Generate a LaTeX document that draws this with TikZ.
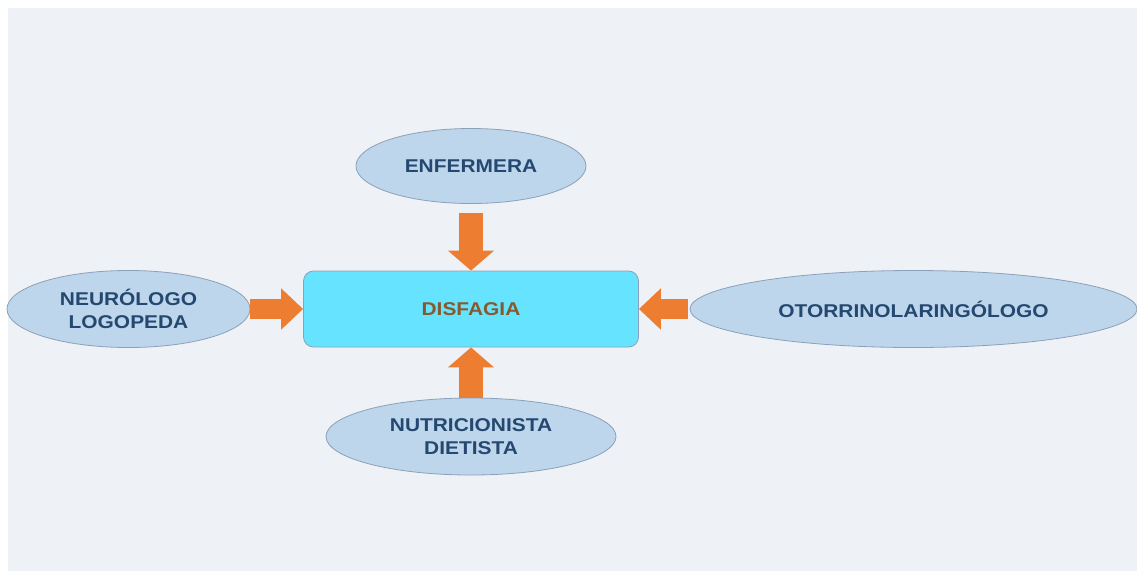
\documentclass[tikz,border=0pt]{standalone}
\usepackage{fontspec}
\setmainfont{Liberation Sans}[FakeStretch=1.13]
\usetikzlibrary{shapes.geometric,arrows.meta,positioning}
\definecolor{fondo}{RGB}{238,241,245}
\definecolor{elipse}{RGB}{190,214,236}
\definecolor{borde}{RGB}{140,160,185}
\definecolor{texto}{RGB}{36,72,112}
\definecolor{caja}{RGB}{102,228,255}
\definecolor{flecha}{RGB}{237,125,49}
\definecolor{centro}{RGB}{135,90,45}

\begin{document}
\begin{tikzpicture}[x=1pt,y=-1pt,
		rol/.style={ellipse, draw=borde, line width=0.8pt, fill=elipse, inner sep=0pt, text=texto, font=\fontsize{18.5}{23}\selectfont\bfseries, align=center},
		flechav/.style={color=flecha, line width=24pt, -{Triangle[length=20pt,width=45pt]}},
		flechah/.style={color=flecha, line width=20pt, -{Triangle[length=22pt,width=40pt]}}]
		\useasboundingbox (0,0) rectangle (1137,571);
		\fill[fondo] (8,8) rectangle (1137,571);
		\node[draw=borde, line width=0.8pt, fill=caja, rounded corners=10pt, minimum width=335pt, minimum height=76pt, text=centro, font=\fontsize{18.5}{23}\selectfont\bfseries] (disfagia) at (471,309) {DISFAGIA};
		\node[rol, minimum width=230pt, minimum height=75pt] (enfermera) at (471,166) {ENFERMERA};
		\node[rol, minimum width=243pt, minimum height=77pt] (neurologo) at (128.5,309) {NEURÓLOGO\\LOGOPEDA};
		\node[rol, minimum width=447pt, minimum height=77pt] (otorrino) at (913.5,309) {OTORRINOLARINGÓLOGO};
		\node[rol, minimum width=290pt, minimum height=77pt] (nutricionista) at (471,436.5) {NUTRICIONISTA\\DIETISTA};
		\draw[flechav, shorten <=9pt] (enfermera) -- (disfagia);
		\draw[flechav] (nutricionista) -- (disfagia);
		\draw[flechah] (neurologo) -- (disfagia);
		\draw[flechah, shorten <=2pt] (otorrino) -- (disfagia);
	\end{tikzpicture}
\end{document}
